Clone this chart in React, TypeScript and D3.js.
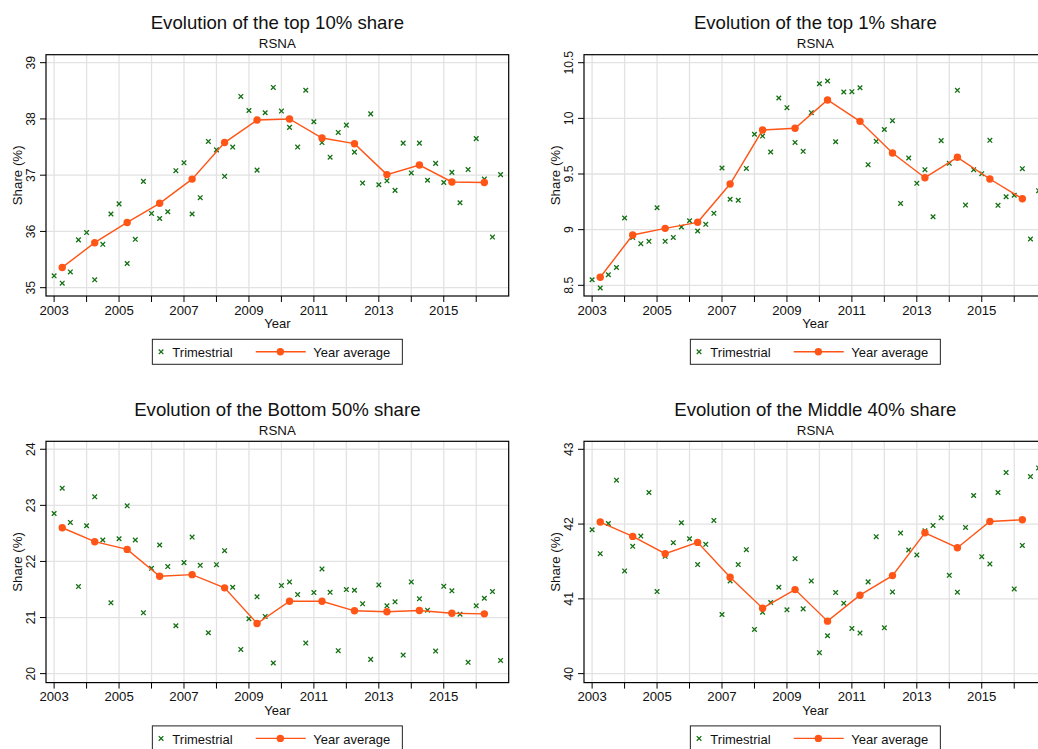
import React from 'react';
import * as d3 from 'd3';

// Time axis: quarters of each year, yearly means plotted one quarter into the year
const YEARS = [2003, 2004, 2005, 2006, 2007, 2008, 2009, 2010, 2011, 2012, 2013, 2014, 2015, 2016];
const QUARTER_OFFSETS = [0, 0.25, 0.5, 0.75];
const X_LABELS = [2003, 2005, 2007, 2009, 2011, 2013, 2015];
const X_DOMAIN: [number, number] = [2002.75, 2017];

// Top 10% share (%)
const TOP10_Q = [
  35.21, 35.08, 35.28, 35.85, 35.98, 35.14, 35.77, 36.31, 36.49, 35.43, 35.86, 36.89,
  36.32, 36.23, 36.35, 37.08, 37.22, 36.31, 36.6, 37.6, 37.45, 36.98, 37.5, 38.4,
  38.15, 37.09, 38.11, 38.56, 38.14, 37.85, 37.5, 38.51, 37.95, 37.58, 37.32, 37.76,
  37.89, 37.41, 36.86, 38.09, 36.83, 36.9, 36.73, 37.57, 37.04, 37.57, 36.91, 37.21,
  36.87, 37.05, 36.51, 37.1, 37.65, 36.93, 35.9, 37.01,
];
const TOP10_AVG = [35.36, 35.8, 36.16, 36.5, 36.93, 37.58, 37.98, 38.0, 37.66, 37.56, 37.01, 37.18, 36.88, 36.87];

// Top 1% share (%)
const TOP1_Q = [
  8.55, 8.476, 8.595, 8.66, 9.105, 8.93, 8.874, 8.895, 9.197, 8.895, 8.93, 9.024,
  9.08, 8.988, 9.048, 9.147, 9.554, 9.273, 9.264, 9.55, 9.857, 9.841, 9.698, 10.183,
  10.096, 9.784, 9.704, 10.051, 10.311, 10.336, 9.79, 10.237, 10.24, 10.275, 9.584, 9.794,
  9.9, 9.979, 9.236, 9.644, 9.416, 9.539, 9.116, 9.8, 9.596, 10.252, 9.221, 9.539,
  9.503, 9.803, 9.219, 9.296, 9.309, 9.548, 8.916, 9.35,
];
const TOP1_AVG = [8.572, 8.952, 9.012, 9.066, 9.41, 9.895, 9.911, 10.165, 9.973, 9.689, 9.467, 9.65, 9.455, 9.278];

// Bottom 50% share (%)
const BOTTOM50_Q = [
  22.855, 23.307, 22.695, 21.552, 22.636, 23.152, 22.382, 21.262, 22.405, 22.992, 22.382, 21.084,
  21.877, 22.293, 21.908, 20.853, 21.979, 22.435, 21.931, 20.729, 21.943, 22.192, 21.54, 20.432,
  20.978, 21.369, 21.02, 20.189, 21.57, 21.635, 21.41, 20.544, 21.445, 21.866, 21.45, 20.409,
  21.499, 21.487, 21.244, 20.254, 21.582, 21.209, 21.28, 20.331, 21.635, 21.333, 21.131, 20.402,
  21.557, 21.476, 21.06, 20.201, 21.209, 21.344, 21.463, 20.235,
];
const BOTTOM50_AVG = [22.601, 22.352, 22.215, 21.735, 21.765, 21.529, 20.894, 21.291, 21.291, 21.12, 21.102, 21.125, 21.077, 21.066];

// Middle 40% share (%)
const MIDDLE40_Q = [
  41.924, 41.604, 42.008, 42.587, 41.373, 41.702, 41.84, 42.422, 41.097, 41.569, 41.751, 42.018,
  41.804, 41.458, 41.729, 42.049, 40.791, 41.24, 41.458, 41.658, 40.591, 40.822, 40.951, 41.155,
  40.853, 41.537, 40.866, 41.24, 40.28, 40.507, 41.084, 40.942, 40.604, 40.542, 41.227, 41.831,
  40.613, 41.093, 41.88, 41.653, 41.587, 41.91, 41.982, 42.084, 41.315, 41.089, 41.955, 42.382,
  41.564, 41.467, 42.422, 42.689, 41.133, 41.715, 42.635, 42.751,
];
const MIDDLE40_AVG = [42.027, 41.835, 41.604, 41.755, 41.288, 40.875, 41.124, 40.702, 41.049, 41.311, 41.884, 41.684, 42.035, 42.057];

const TITLES = [
  'Evolution of the top 10% share',
  'Evolution of the top 1% share',
  'Evolution of the Bottom 50% share',
  'Evolution of the Middle 40% share',
];
const SUBTITLE = 'RSNA';
const Y_TICKS = [
  [35, 36, 37, 38, 39],
  [8.5, 9, 9.5, 10, 10.5],
  [20, 21, 22, 23, 24],
  [40, 41, 42, 43],
];
const Y_DOMAINS: [number, number][] = [
  [34.852, 39.142],
  [8.404, 10.572],
  [19.84, 24.142],
  [39.88, 43.107],
];
const QUARTERLY = [TOP10_Q, TOP1_Q, BOTTOM50_Q, MIDDLE40_Q];
const AVERAGES = [TOP10_AVG, TOP1_AVG, BOTTOM50_AVG, MIDDLE40_AVG];

const QUARTER_TIMES = YEARS.flatMap((yr) => QUARTER_OFFSETS.map((q) => yr + q));
const AVERAGE_TIMES = YEARS.map((yr) => yr + 0.25);

// Layout
const PLOT_W = 462.7;
const PLOT_H = 241.3;
const COL_LEFT = [46, 584];
const ROW_TOP = [54.7, 441.3];

const FONT = '"Liberation Sans", Arial, Helvetica, sans-serif';
const GREEN = '#137013';
const ORANGE = '#ff5516';
const GRID = '#e2e2e2';

function Cross({ cx, cy }: { cx: number; cy: number }) {
  const s = 2.3;
  return (
    <path
      d={`M${cx - s},${cy - s}L${cx + s},${cy + s}M${cx - s},${cy + s}L${cx + s},${cy - s}`}
      stroke={GREEN}
      strokeWidth={1.3}
      fill="none"
    />
  );
}

function Panel({ idx }: { idx: number }) {
  const left = COL_LEFT[idx % 2];
  const top = ROW_TOP[Math.floor(idx / 2)];
  const right = left + PLOT_W;
  const bottom = top + PLOT_H;
  const cx = left + PLOT_W / 2;

  const x = d3.scaleLinear().domain(X_DOMAIN).range([left, right]);
  const y = d3.scaleLinear().domain(Y_DOMAINS[idx]).range([bottom, top]);

  const quarterly = QUARTERLY[idx].map((v, i) => [QUARTER_TIMES[i], v] as [number, number]);
  const averages = AVERAGES[idx].map((v, i) => [AVERAGE_TIMES[i], v] as [number, number]);
  const line = d3
    .line<[number, number]>()
    .x((d) => x(d[0]))
    .y((d) => y(d[1]));

  const legTop = bottom + 43.3;
  const legLeft = cx - 125;

  return (
    <g>
      {/* titles */}
      <text x={cx} y={top - 25.4} textAnchor="middle" fontSize={18.6} fill="#111">
        {TITLES[idx]}
      </text>
      <text x={cx} y={top - 6.4} textAnchor="middle" fontSize={13.3} fill="#111">
        {SUBTITLE}
      </text>

      {/* grid */}
      {YEARS.map((yr) => (
        <line key={'gx' + yr} x1={x(yr)} x2={x(yr)} y1={top} y2={bottom} stroke={GRID} strokeWidth={1.3} />
      ))}
      {Y_TICKS[idx].map((t) => (
        <line key={'gy' + t} x1={left} x2={right} y1={y(t)} y2={y(t)} stroke={GRID} strokeWidth={1.3} />
      ))}

      {/* frame */}
      <rect x={left} y={top} width={PLOT_W} height={PLOT_H} fill="none" stroke="#000" strokeWidth={1.2} />

      {/* y axis */}
      {Y_TICKS[idx].map((t) => (
        <g key={'yt' + t}>
          <line x1={left - 6} x2={left} y1={y(t)} y2={y(t)} stroke="#000" strokeWidth={1} />
          <text
            transform={`translate(${left - 10.7},${y(t)}) rotate(-90)`}
            textAnchor="middle"
            fontSize={12.2}
            fill="#111"
          >
            {String(t)}
          </text>
        </g>
      ))}
      <text
        transform={`translate(${left - 24.3},${(top + bottom) / 2}) rotate(-90)`}
        textAnchor="middle"
        fontSize={13.3}
        fill="#111"
      >
        Share (%)
      </text>

      {/* x axis */}
      {YEARS.map((yr) => (
        <line key={'xt' + yr} x1={x(yr)} x2={x(yr)} y1={bottom} y2={bottom + 6} stroke="#000" strokeWidth={1} />
      ))}
      {X_LABELS.map((yr) => (
        <text key={'xl' + yr} x={x(yr)} y={bottom + 18.6} textAnchor="middle" fontSize={13.2} fill="#111">
          {yr}
        </text>
      ))}
      <text x={cx} y={bottom + 32.3} textAnchor="middle" fontSize={13} fill="#111">
        Year
      </text>

      {/* series */}
      {quarterly.map((d, i) => (
        <Cross key={'q' + i} cx={x(d[0])} cy={y(d[1])} />
      ))}
      <path d={line(averages) || ''} fill="none" stroke={ORANGE} strokeWidth={1.4} />
      {averages.map((d, i) => (
        <circle key={'a' + i} cx={x(d[0])} cy={y(d[1])} r={3.7} fill={ORANGE} />
      ))}

      {/* legend */}
      <rect x={legLeft} y={legTop} width={250} height={25} fill="#fff" stroke="#222" strokeWidth={1} />
      <Cross cx={legLeft + 8.7} cy={legTop + 12.5} />
      <text x={legLeft + 20} y={legTop + 18} fontSize={13} fill="#111">
        Trimestrial
      </text>
      <line x1={legLeft + 103.4} x2={legLeft + 153.4} y1={legTop + 12.5} y2={legTop + 12.5} stroke={ORANGE} strokeWidth={1.4} />
      <circle cx={legLeft + 128} cy={legTop + 12.5} r={3.7} fill={ORANGE} />
      <text x={legLeft + 161} y={legTop + 18} fontSize={13} fill="#111">
        Year average
      </text>
    </g>
  );
}

export default function App() {
  return (
    <svg
      width={1038}
      height={749}
      style={{ position: 'absolute', left: 0, top: 0, background: '#fff', fontFamily: FONT }}
    >
      <rect width={1038} height={749} fill="#fff" />
      {[0, 1, 2, 3].map((i) => (
        <Panel key={i} idx={i} />
      ))}
    </svg>
  );
}
